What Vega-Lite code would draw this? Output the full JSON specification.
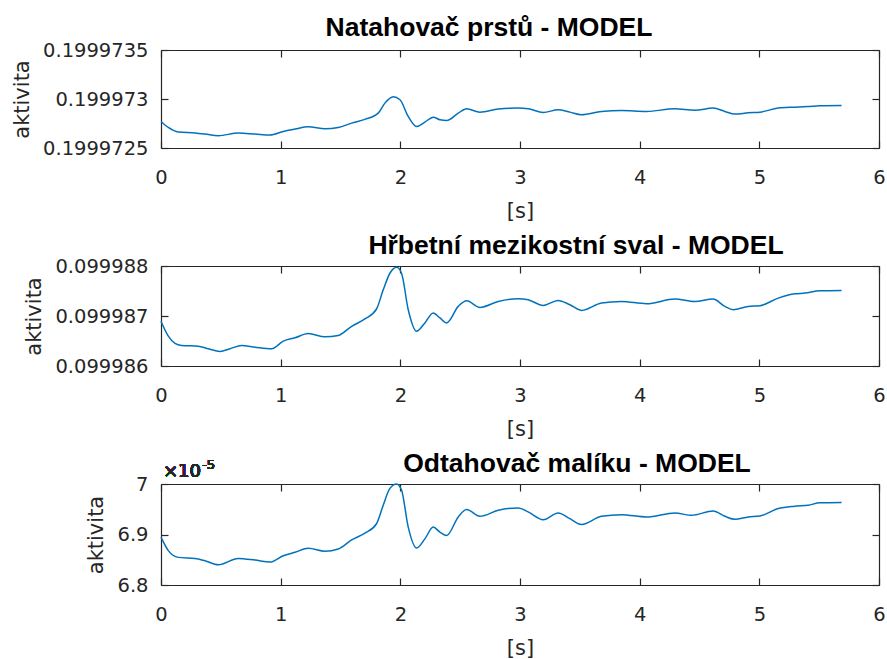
{
  "$schema": "https://vega.github.io/schema/vega-lite/v6.json",
  "background": "white",
  "padding": {"left": 11, "top": 14, "right": 0, "bottom": 0},
  "spacing": 10,
  "config": {
    "view": {"stroke": null},
    "axis": {
      "grid": false,
      "domainColor": "#262626", "domainWidth": 1.2,
      "tickColor": "#262626", "tickWidth": 1.2, "tickSize": -7,
      "labelFont": "DejaVu Sans", "labelFontSize": 19.5, "labelColor": "#262626",
      "titleFont": "DejaVu Sans", "titleFontSize": 21, "titleFontWeight": "normal", "titleColor": "#262626",
      "labelFlush": false, "labelOverlap": false
    },
    "axisX": {"labelPadding": 27, "titlePadding": 14},
    "axisY": {"labelPadding": 20, "titlePadding": 10},
    "title": {"font": "Liberation Sans", "fontSize": 26.5, "fontWeight": "bold", "color": "#000000", "anchor": "middle", "frame": "group"}
  },
  "datasets": {
    "p1": [
      {"t": 0, "v": 0.199972771}, {"t": 0.061, "v": 0.19997271}, {"t": 0.145, "v": 0.199972663},
      {"t": 0.284, "v": 0.199972653}, {"t": 0.368, "v": 0.199972642}, {"t": 0.479, "v": 0.199972625},
      {"t": 0.646, "v": 0.199972653}, {"t": 0.786, "v": 0.199972642}, {"t": 0.911, "v": 0.199972632},
      {"t": 1.022, "v": 0.199972669}, {"t": 1.12, "v": 0.199972693}, {"t": 1.231, "v": 0.199972717},
      {"t": 1.37, "v": 0.199972697}, {"t": 1.481, "v": 0.19997271}, {"t": 1.593, "v": 0.199972754},
      {"t": 1.704, "v": 0.199972792}, {"t": 1.815, "v": 0.199972856}, {"t": 1.871, "v": 0.199972958},
      {"t": 1.941, "v": 0.199973022}, {"t": 1.997, "v": 0.199972992}, {"t": 2.066, "v": 0.199972822},
      {"t": 2.136, "v": 0.19997272}, {"t": 2.205, "v": 0.199972764}, {"t": 2.275, "v": 0.199972815},
      {"t": 2.331, "v": 0.199972788}, {"t": 2.387, "v": 0.199972781}, {"t": 2.484, "v": 0.199972856},
      {"t": 2.554, "v": 0.1999729}, {"t": 2.665, "v": 0.199972866}, {"t": 2.818, "v": 0.199972897},
      {"t": 2.985, "v": 0.199972907}, {"t": 3.068, "v": 0.1999729}, {"t": 3.194, "v": 0.199972863},
      {"t": 3.319, "v": 0.19997289}, {"t": 3.417, "v": 0.199972866}, {"t": 3.514, "v": 0.199972839},
      {"t": 3.681, "v": 0.199972873}, {"t": 3.848, "v": 0.199972883}, {"t": 4.057, "v": 0.199972873},
      {"t": 4.294, "v": 0.1999729}, {"t": 4.461, "v": 0.199972886}, {"t": 4.614, "v": 0.199972907},
      {"t": 4.712, "v": 0.199972873}, {"t": 4.796, "v": 0.199972846}, {"t": 4.907, "v": 0.199972859},
      {"t": 5.005, "v": 0.199972866}, {"t": 5.158, "v": 0.199972907}, {"t": 5.297, "v": 0.199972917},
      {"t": 5.408, "v": 0.199972924}, {"t": 5.506, "v": 0.199972931}, {"t": 5.687, "v": 0.199972934}
    ],
    "p2": [
      {"t": 0, "v": 0.099986894}, {"t": 0.061, "v": 0.099986596}, {"t": 0.117, "v": 0.099986451},
      {"t": 0.172, "v": 0.099986411}, {"t": 0.312, "v": 0.099986397}, {"t": 0.396, "v": 0.099986345},
      {"t": 0.493, "v": 0.099986292}, {"t": 0.577, "v": 0.099986345}, {"t": 0.674, "v": 0.099986411},
      {"t": 0.786, "v": 0.099986377}, {"t": 0.925, "v": 0.099986345}, {"t": 1.022, "v": 0.099986497},
      {"t": 1.12, "v": 0.099986564}, {"t": 1.231, "v": 0.099986649}, {"t": 1.37, "v": 0.099986584},
      {"t": 1.481, "v": 0.09998661}, {"t": 1.593, "v": 0.099986794}, {"t": 1.704, "v": 0.099986941},
      {"t": 1.801, "v": 0.09998714}, {"t": 1.857, "v": 0.099987523}, {"t": 1.913, "v": 0.099987855},
      {"t": 1.969, "v": 0.099987974}, {"t": 2.01, "v": 0.099987855}, {"t": 2.066, "v": 0.099987126},
      {"t": 2.136, "v": 0.099986695}, {"t": 2.205, "v": 0.099986862}, {"t": 2.275, "v": 0.09998706},
      {"t": 2.331, "v": 0.099986961}, {"t": 2.387, "v": 0.099986862}, {"t": 2.484, "v": 0.099987192},
      {"t": 2.554, "v": 0.099987305}, {"t": 2.665, "v": 0.099987172}, {"t": 2.818, "v": 0.099987291},
      {"t": 2.985, "v": 0.099987345}, {"t": 3.068, "v": 0.099987325}, {"t": 3.194, "v": 0.099987212},
      {"t": 3.319, "v": 0.099987311}, {"t": 3.417, "v": 0.099987225}, {"t": 3.514, "v": 0.099987112},
      {"t": 3.681, "v": 0.099987259}, {"t": 3.848, "v": 0.099987291}, {"t": 4.057, "v": 0.099987245},
      {"t": 4.294, "v": 0.099987339}, {"t": 4.461, "v": 0.099987291}, {"t": 4.614, "v": 0.099987339},
      {"t": 4.712, "v": 0.099987192}, {"t": 4.782, "v": 0.099987126}, {"t": 4.907, "v": 0.099987192},
      {"t": 5.005, "v": 0.099987206}, {"t": 5.158, "v": 0.099987358}, {"t": 5.297, "v": 0.099987444},
      {"t": 5.381, "v": 0.099987458}, {"t": 5.506, "v": 0.099987503}, {"t": 5.687, "v": 0.099987509}
    ],
    "p3": [
      {"t": 0, "v": 6.8947e-5}, {"t": 0.061, "v": 6.868e-5}, {"t": 0.145, "v": 6.8547e-5},
      {"t": 0.284, "v": 6.8527e-5}, {"t": 0.368, "v": 6.848e-5}, {"t": 0.479, "v": 6.840e-5},
      {"t": 0.646, "v": 6.8527e-5}, {"t": 0.786, "v": 6.8493e-5}, {"t": 0.911, "v": 6.8453e-5},
      {"t": 1.022, "v": 6.858e-5}, {"t": 1.12, "v": 6.8647e-5}, {"t": 1.231, "v": 6.8727e-5},
      {"t": 1.37, "v": 6.8667e-5}, {"t": 1.481, "v": 6.8713e-5}, {"t": 1.593, "v": 6.8893e-5},
      {"t": 1.704, "v": 6.9027e-5}, {"t": 1.801, "v": 6.9213e-5}, {"t": 1.857, "v": 6.958e-5},
      {"t": 1.913, "v": 6.9913e-5}, {"t": 1.969, "v": 7.0e-5}, {"t": 2.01, "v": 6.988e-5},
      {"t": 2.066, "v": 6.9147e-5}, {"t": 2.136, "v": 6.8733e-5}, {"t": 2.205, "v": 6.8913e-5},
      {"t": 2.275, "v": 6.9147e-5}, {"t": 2.331, "v": 6.9047e-5}, {"t": 2.387, "v": 6.898e-5},
      {"t": 2.484, "v": 6.9347e-5}, {"t": 2.554, "v": 6.9493e-5}, {"t": 2.665, "v": 6.936e-5},
      {"t": 2.818, "v": 6.948e-5}, {"t": 2.985, "v": 6.9527e-5}, {"t": 3.068, "v": 6.9447e-5},
      {"t": 3.194, "v": 6.9293e-5}, {"t": 3.319, "v": 6.9427e-5}, {"t": 3.417, "v": 6.9313e-5},
      {"t": 3.514, "v": 6.920e-5}, {"t": 3.681, "v": 6.936e-5}, {"t": 3.848, "v": 6.9393e-5},
      {"t": 4.057, "v": 6.9347e-5}, {"t": 4.294, "v": 6.9427e-5}, {"t": 4.433, "v": 6.938e-5},
      {"t": 4.614, "v": 6.9467e-5}, {"t": 4.712, "v": 6.936e-5}, {"t": 4.796, "v": 6.930e-5},
      {"t": 4.907, "v": 6.9347e-5}, {"t": 5.005, "v": 6.9367e-5}, {"t": 5.158, "v": 6.9513e-5},
      {"t": 5.297, "v": 6.956e-5}, {"t": 5.408, "v": 6.958e-5}, {"t": 5.506, "v": 6.9627e-5},
      {"t": 5.687, "v": 6.9633e-5}
    ]
  },
  "vconcat": [
    {
      "width": 718, "height": 98,
      "title": {"text": "Natahovač prstů - MODEL", "dx": -31, "offset": -1},
      "data": {"name": "p1"},
      "layer": [
        {
          "mark": {"type": "line", "color": "#0072BD", "strokeWidth": 1.5, "interpolate": "monotone"},
          "encoding": {
            "x": {"field": "t", "type": "quantitative", "scale": {"domain": [0, 6], "nice": false},
                  "axis": {"values": [0, 1, 2, 3, 4, 5, 6], "title": "[s]"}},
            "y": {"field": "v", "type": "quantitative", "scale": {"domain": [0.1999725, 0.1999735], "nice": false, "zero": false},
                  "axis": {"values": [0.1999725, 0.199973, 0.1999735], "labelExpr": "format(datum.value, '.7~f')", "title": "aktivita"}}
          }
        },
        {
          "mark": {"type": "line", "opacity": 0},
          "encoding": {
            "x": {"field": "t", "type": "quantitative", "axis": {"orient": "top", "values": [0, 1, 2, 3, 4, 5, 6], "labels": false, "title": null}},
            "y": {"field": "v", "type": "quantitative", "axis": {"orient": "right", "values": [0.1999725, 0.199973, 0.1999735], "labels": false, "title": null}}
          }
        }
      ],
      "resolve": {"axis": {"x": "independent", "y": "independent"}}
    },
    {
      "width": 718, "height": 100,
      "title": {"text": "Hřbetní mezikostní sval - MODEL", "dx": 56, "offset": -3},
      "data": {"name": "p2"},
      "layer": [
        {
          "mark": {"type": "line", "color": "#0072BD", "strokeWidth": 1.5, "interpolate": "monotone"},
          "encoding": {
            "x": {"field": "t", "type": "quantitative", "scale": {"domain": [0, 6], "nice": false},
                  "axis": {"values": [0, 1, 2, 3, 4, 5, 6], "title": "[s]"}},
            "y": {"field": "v", "type": "quantitative", "scale": {"domain": [0.099986, 0.099988], "nice": false, "zero": false},
                  "axis": {"values": [0.099986, 0.099987, 0.099988], "labelExpr": "format(datum.value, '.6~f')", "title": "aktivita"}}
          }
        },
        {
          "mark": {"type": "line", "opacity": 0},
          "encoding": {
            "x": {"field": "t", "type": "quantitative", "axis": {"orient": "top", "values": [0, 1, 2, 3, 4, 5, 6], "labels": false, "title": null}},
            "y": {"field": "v", "type": "quantitative", "axis": {"orient": "right", "values": [0.099986, 0.099987, 0.099988], "labels": false, "title": null}}
          }
        }
      ],
      "resolve": {"axis": {"x": "independent", "y": "independent"}}
    },
    {
      "width": 718, "height": 101,
      "title": {"text": "Odtahovač malíku - MODEL", "dx": 57, "offset": -18},
      "data": {"name": "p3"},
      "layer": [
        {
          "mark": {"type": "line", "color": "#0072BD", "strokeWidth": 1.5, "interpolate": "monotone"},
          "encoding": {
            "x": {"field": "t", "type": "quantitative", "scale": {"domain": [0, 6], "nice": false},
                  "axis": {"values": [0, 1, 2, 3, 4, 5, 6], "title": "[s]"}},
            "y": {"field": "v", "type": "quantitative", "scale": {"domain": [6.8e-5, 7.0e-5], "nice": false, "zero": false},
                  "axis": {"values": [6.8e-5, 6.9e-5, 7.0e-5], "labelExpr": "format(datum.value * 100000, '.2~f')", "title": "aktivita"}}
          }
        },
        {
          "mark": {"type": "line", "opacity": 0},
          "encoding": {
            "x": {"field": "t", "type": "quantitative", "axis": {"orient": "top", "values": [0, 1, 2, 3, 4, 5, 6], "labels": false, "title": null}},
            "y": {"field": "v", "type": "quantitative", "axis": {"orient": "right", "values": [6.8e-5, 6.9e-5, 7.0e-5], "labels": false, "title": null}}
          }
        },
        {
          "mark": {"type": "text", "text": "×10", "align": "left", "baseline": "alphabetic", "dx": 2, "dy": -7, "font": "DejaVu Sans", "fontSize": 18, "color": "#262626"},
          "encoding": {
            "x": {"datum": 0, "type": "quantitative", "axis": null},
            "y": {"datum": 7.0e-5, "type": "quantitative", "axis": null}
          }
        },
        {
          "mark": {"type": "text", "text": "-5", "align": "left", "baseline": "alphabetic", "dx": 41, "dy": -15, "font": "DejaVu Sans", "fontSize": 13, "color": "#262626"},
          "encoding": {
            "x": {"datum": 0, "type": "quantitative", "axis": null},
            "y": {"datum": 7.0e-5, "type": "quantitative", "axis": null}
          }
        }
      ],
      "resolve": {"axis": {"x": "independent", "y": "independent"}}
    }
  ]
}
